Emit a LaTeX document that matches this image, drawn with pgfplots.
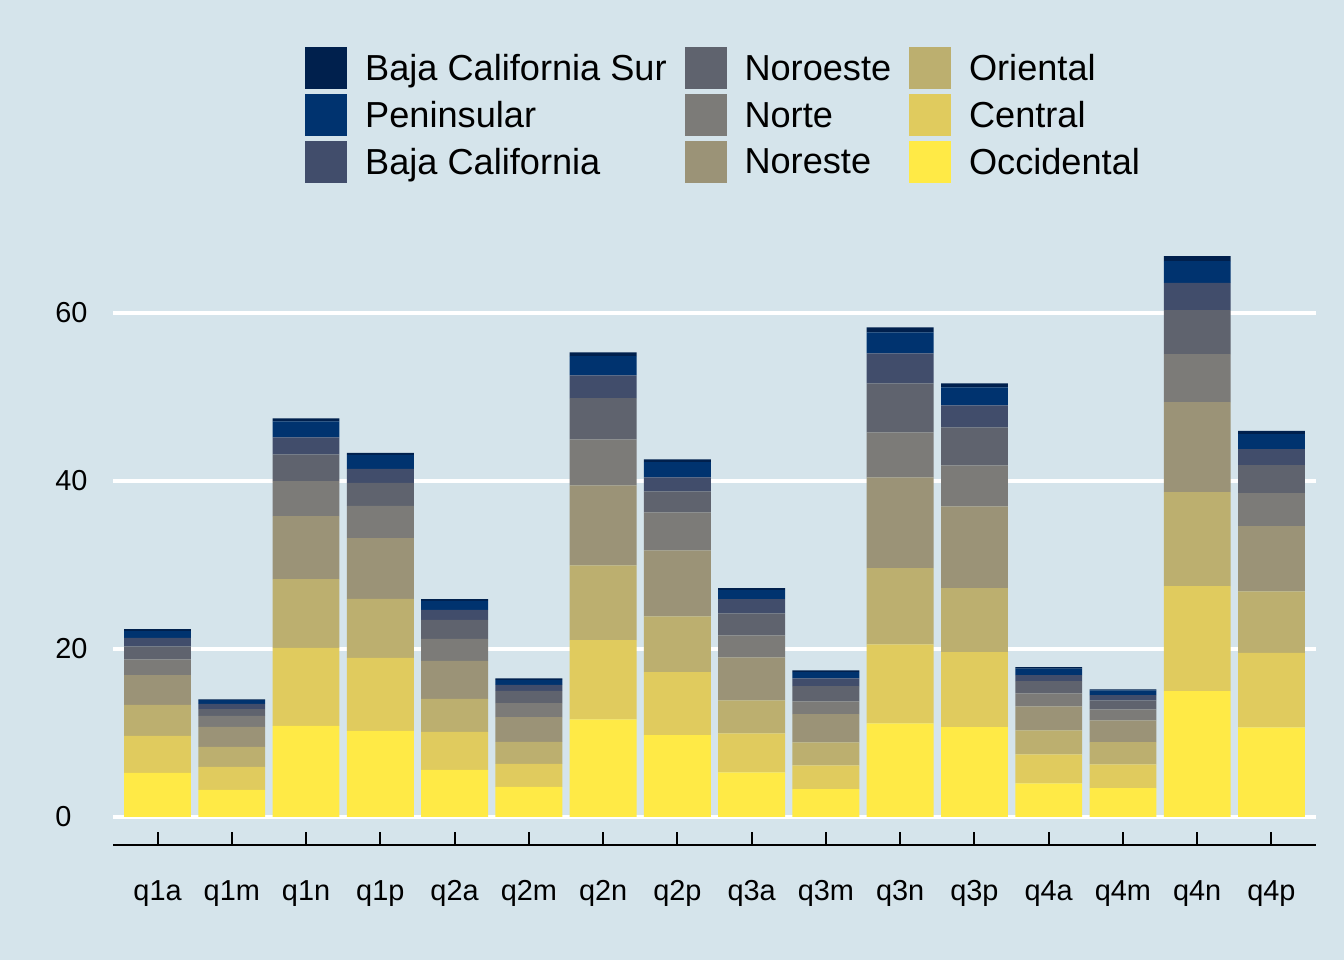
\documentclass[border=0pt]{standalone}
\usepackage{fontspec}
\setmainfont{Liberation Sans}
\usepackage{pgfplots}
\usepackage{pgfplotstable}
\pgfplotsset{compat=1.18}
\definecolor{bg}{HTML}{D5E4EB}
\definecolor{cBCS}{HTML}{00204D}
\definecolor{cPen}{HTML}{00336F}
\definecolor{cBC}{HTML}{414D6B}
\definecolor{cNoro}{HTML}{5F636E}
\definecolor{cNorte}{HTML}{7C7B78}
\definecolor{cNore}{HTML}{9B9377}
\definecolor{cOri}{HTML}{BCAF6F}
\definecolor{cCen}{HTML}{E0CB5E}
\definecolor{cOcc}{HTML}{FFEA46}
\pgfplotstableread{
x occ cen ori nore norte noro bc pen bcs
0 5.24 4.40 3.69 3.54 1.90 1.55 0.99 0.80 0.24
1 3.21 2.74 2.38 2.38 1.31 0.83 0.60 0.45 0.11
2 10.83 9.29 8.18 7.50 4.17 3.21 2.02 1.90 0.36
3 10.24 8.69 7.02 7.26 3.81 2.74 1.67 1.67 0.24
4 5.60 4.52 3.93 4.52 2.62 2.26 1.19 1.07 0.21
5 3.57 2.74 2.62 2.94 1.67 1.46 0.71 0.60 0.20
6 11.63 9.41 8.92 9.53 5.47 4.89 2.73 2.27 0.47
7 9.73 7.50 6.66 7.86 4.52 2.50 1.67 1.79 0.35
8 5.32 4.64 3.93 5.12 2.62 2.62 1.67 1.07 0.24
9 3.30 2.85 2.74 3.34 1.54 1.79 0.95 0.72 0.23
10 11.15 9.41 9.05 10.83 5.36 5.83 3.57 2.50 0.60
11 10.68 8.93 7.62 9.76 4.88 4.52 2.62 2.14 0.48
12 4.01 3.43 2.87 2.86 1.54 1.46 0.70 0.80 0.17
13 3.44 2.82 2.64 2.60 1.32 1.06 0.61 0.58 0.13
14 14.98 12.51 11.19 10.70 5.73 5.24 3.22 2.60 0.61
15 10.66 8.86 7.35 7.76 3.92 3.34 1.90 1.80 0.36
}\data
\pgfplotsset{sq/.style={legend image code/.code={\fill[#1] (0bp,-10.25bp) rectangle (20.5bp,10.25bp);}}}
\begin{document}
\begin{tikzpicture}
\fill[bg] (0,0) rectangle (672bp,480bp);
\begin{axis}[
  at={(56.5bp,57.5bp)}, anchor=south west,
  scale only axis, width=601.5bp, height=308.5bp,
  ybar stacked, bar width=0.9,
  xmin=-0.6, xmax=15.6, ymin=-3.34, ymax=70.12,
  enlargelimits=false,
  axis x line*=bottom, axis y line*=left,
  y axis line style={draw=none},
  x axis line style={black, line width=1bp, -},
  xtick={0,...,15},
  xticklabels={q1a,q1m,q1n,q1p,q2a,q2m,q2n,q2p,q3a,q3m,q3n,q3p,q4a,q4m,q4n,q4p},
  ytick={0,20,40,60},
  ymajorgrids, grid style={white, line width=1.6bp},
  major tick length=6.5bp,
  xtick align=inside,
  xtick style={black, line width=1bp},
  ytick style={draw=none},
  tick label style={font=\fontsize{14.5}{16}\selectfont, black},
  /pgf/number format/assume math mode=true,
  xticklabel style={anchor=north, inner sep=0pt, yshift=-17.5bp},
  yticklabel style={anchor=west, inner sep=0pt, xshift=-29bp},
  legend columns=3,
  legend style={at={(0.1596,1.294)}, anchor=north west, draw=none, fill=none,
    inner sep=0pt, font=\fontsize{18.15}{20}\selectfont,
    /tikz/column sep=9bp, /tikz/row sep=2.5bp,
    nodes={inner sep=0pt, text depth=0pt}, cells={anchor=west}},
]
\addplot[fill=cOcc, draw=none, forget plot] table[x=x, y=occ] {\data};
\addplot[fill=cCen, draw=none, forget plot] table[x=x, y=cen] {\data};
\addplot[fill=cOri, draw=none, forget plot] table[x=x, y=ori] {\data};
\addplot[fill=cNore, draw=none, forget plot] table[x=x, y=nore] {\data};
\addplot[fill=cNorte, draw=none, forget plot] table[x=x, y=norte] {\data};
\addplot[fill=cNoro, draw=none, forget plot] table[x=x, y=noro] {\data};
\addplot[fill=cBC, draw=none, forget plot] table[x=x, y=bc] {\data};
\addplot[fill=cPen, draw=none, forget plot] table[x=x, y=pen] {\data};
\addplot[fill=cBCS, draw=none, forget plot] table[x=x, y=bcs] {\data};
\addlegendimage{sq=cBCS}\addlegendentry{Baja California Sur}
\addlegendimage{sq=cNoro}\addlegendentry{Noroeste}
\addlegendimage{sq=cOri}\addlegendentry{Oriental}
\addlegendimage{sq=cPen}\addlegendentry{Peninsular}
\addlegendimage{sq=cNorte}\addlegendentry{Norte}
\addlegendimage{sq=cCen}\addlegendentry{Central}
\addlegendimage{sq=cBC}\addlegendentry{Baja California}
\addlegendimage{sq=cNore}\addlegendentry{Noreste}
\addlegendimage{sq=cOcc}\addlegendentry{Occidental}
\end{axis}
\pgfresetboundingbox
\useasboundingbox (0,0) rectangle (672bp,480bp);
\end{tikzpicture}
\end{document}
